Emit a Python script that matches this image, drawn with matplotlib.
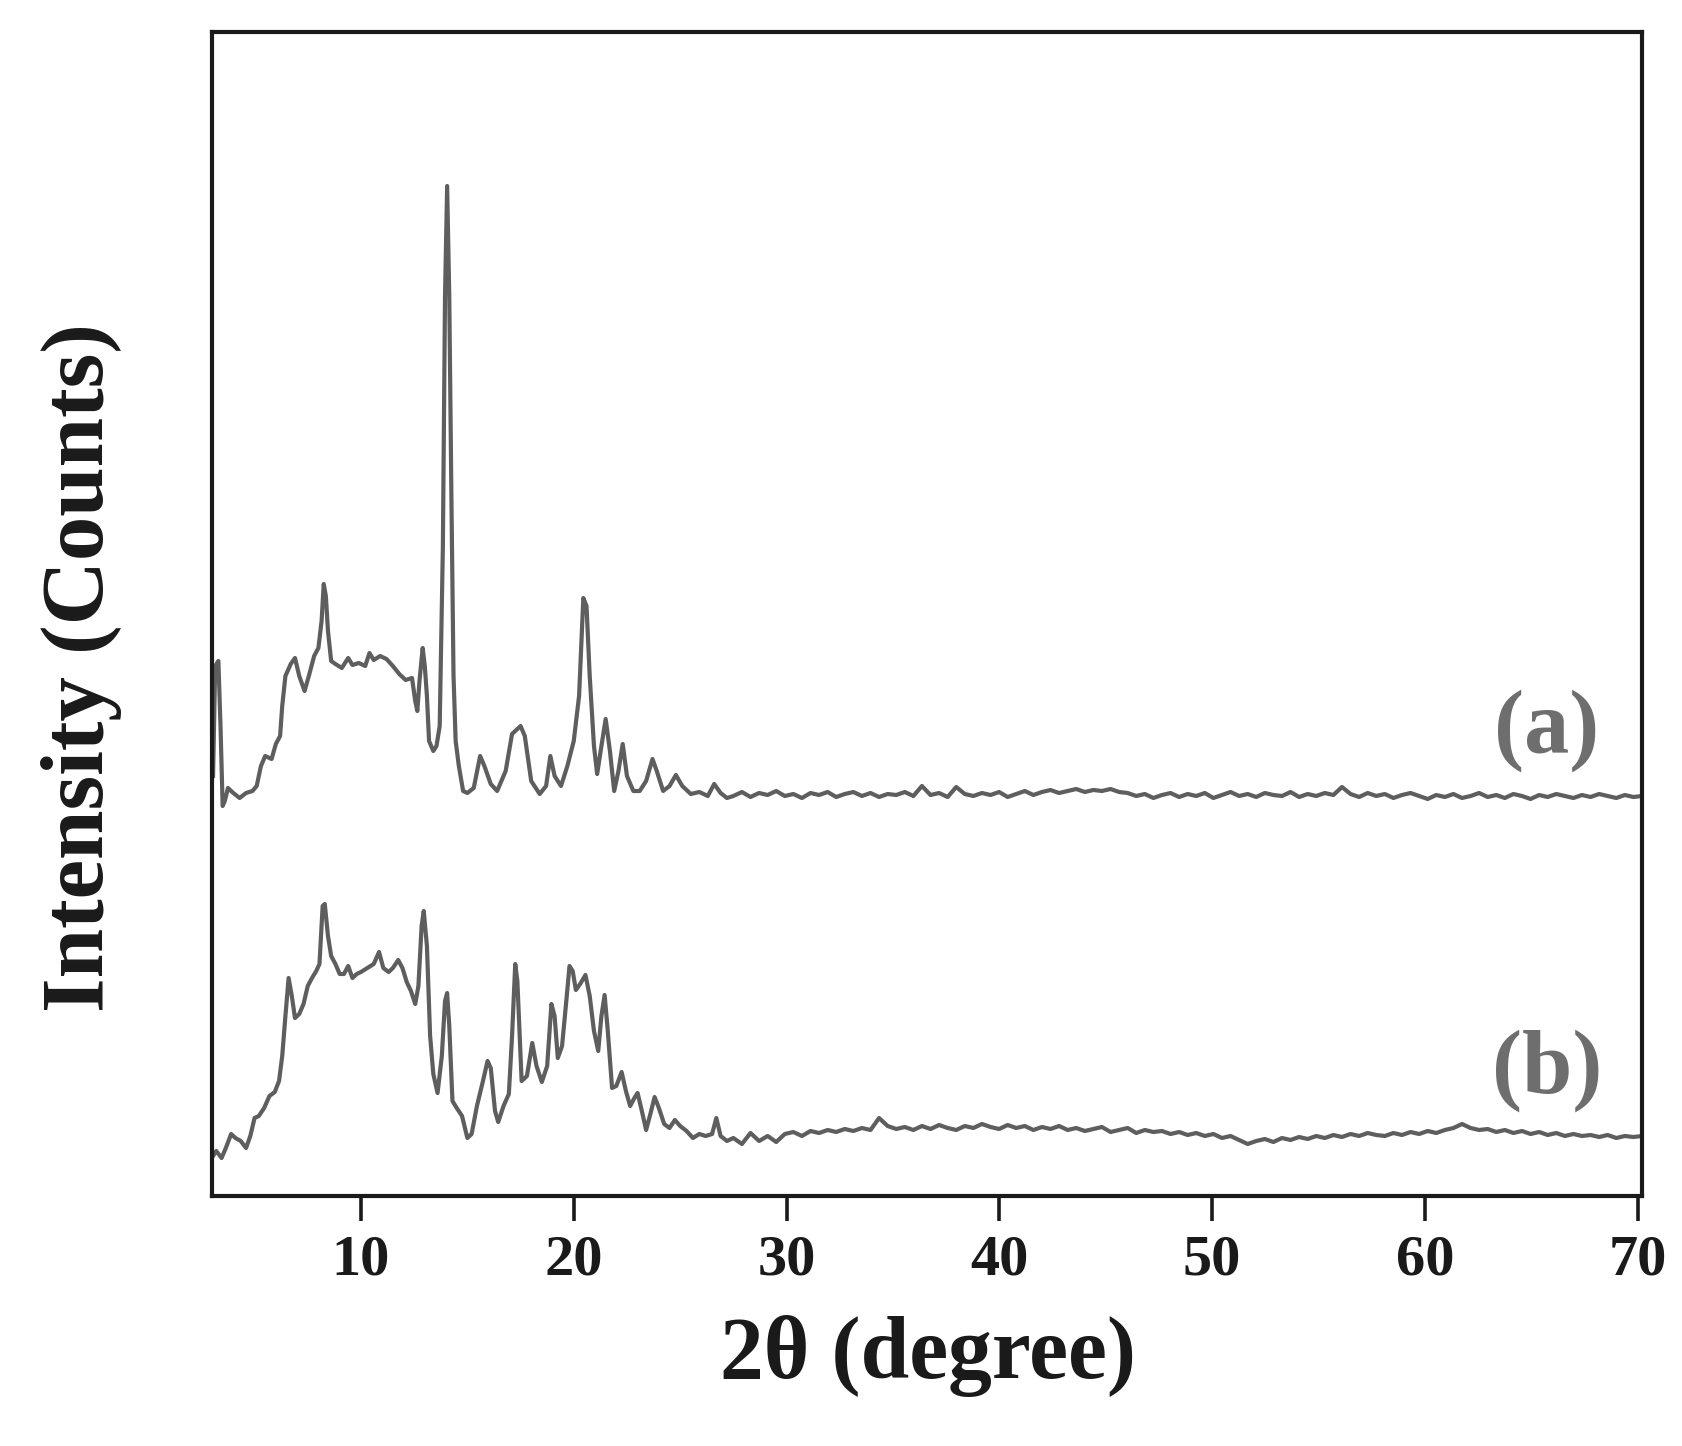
import numpy as np
import matplotlib
matplotlib.use("Agg")
import matplotlib.pyplot as plt

# ---------------- data ----------------
# curve (a): peak region, 2-theta (deg) and intensity (arbitrary, offset trace)
a_x = [3.05, 3.15, 3.3, 3.4, 3.5, 3.6, 3.75, 4.0, 4.3, 4.6, 4.9, 5.1, 5.3, 5.5, 5.8,
       6.0, 6.2, 6.3, 6.45, 6.7, 6.9, 7.1, 7.35, 7.55, 7.8, 8.0, 8.15, 8.25, 8.35,
       8.45, 8.6, 8.8, 9.1, 9.4, 9.6, 9.9, 10.2, 10.4, 10.6, 10.9, 11.2, 11.5, 11.8,
       12.1, 12.4, 12.55, 12.65, 12.75, 12.9, 13.0, 13.1, 13.2, 13.4, 13.55, 13.7,
       13.85, 13.95, 14.05, 14.15, 14.25, 14.35, 14.45, 14.6, 14.8, 15.0, 15.3, 15.6,
       15.8, 16.1, 16.4, 16.8, 17.1, 17.5, 17.7, 18.0, 18.4, 18.7, 18.9, 19.1, 19.4,
       19.7, 20.0, 20.25, 20.45, 20.6, 20.75, 20.95, 21.1, 21.3, 21.5, 21.7, 21.9,
       22.1, 22.3, 22.5, 22.8, 23.1, 23.4, 23.7, 23.9, 24.2, 24.5, 24.8, 25.1, 25.5,
       25.9, 26.3, 26.6, 26.9, 27.2]
a_y = [420, 530, 535, 470, 390, 395, 408, 403, 398, 403, 405, 410, 430, 440, 437,
       452, 460, 490, 520, 532, 538, 520, 505, 520, 540, 548, 575, 612, 600,
       565, 535, 532, 528, 538, 531, 533, 530, 543, 536, 540, 537, 530, 522,
       516, 518, 495, 485, 515, 548, 530, 500, 455, 445, 450, 470,
       650, 900, 1010, 900, 700, 520, 455, 430, 405, 403, 408, 440,
       430, 412, 405, 425, 462, 470, 460, 415, 402, 410, 440, 420, 410,
       430, 455, 500, 598, 590, 520, 450, 422, 450, 477, 445, 405,
       425, 452, 420, 405, 405, 415, 437, 425, 405, 410, 421, 410, 402,
       404, 400, 412, 403, 398]
# curve (a): flat tail from 27.5 to 70.2 deg (evenly spaced readings)
a_tail_y = [400, 404, 399, 403, 401, 405, 400, 402, 398, 403,
            401, 404, 399, 402, 404, 400, 403, 399, 402, 401,
            404, 400, 410, 401, 403, 399, 409, 402, 400, 403,
            401, 404, 399, 402, 405, 401, 404, 406, 403, 405,
            407, 404, 406, 405, 407, 404, 403, 400, 402, 398,
            401, 403, 399, 402, 400, 403, 398, 401, 404, 400,
            402, 399, 403, 401, 400, 404, 399, 402, 400, 403,
            401, 409, 402, 399, 403, 400, 402, 398, 401, 403,
            400, 397, 401, 399, 402, 398, 400, 403, 399, 401,
            398, 402, 400, 397, 401, 399, 402, 400, 398, 401,
            399, 402, 400, 398, 401, 399, 400]

# curve (b): peak region
b_x = [3.05, 3.2, 3.45, 3.65, 3.9, 4.1, 4.35, 4.6, 4.8, 5.0, 5.2, 5.45, 5.7, 5.95,
       6.15, 6.3, 6.45, 6.6, 6.75, 6.9, 7.1, 7.3, 7.5, 7.7, 7.9, 8.05, 8.2, 8.3,
       8.45, 8.6, 8.8, 9.0, 9.2, 9.4, 9.6, 9.8, 10.0, 10.3, 10.6, 10.85, 11.05,
       11.3, 11.5, 11.75, 11.95, 12.15, 12.35, 12.55, 12.7, 12.85, 12.95, 13.1,
       13.25, 13.4, 13.6, 13.8, 13.95, 14.05, 14.15, 14.3, 14.5, 14.75, 15.0, 15.2,
       15.45, 15.7, 15.95, 16.1, 16.3, 16.45, 16.7, 16.95, 17.1, 17.25, 17.35,
       17.55, 17.8, 18.05, 18.25, 18.5, 18.75, 18.95, 19.1, 19.25, 19.45, 19.65,
       19.8, 19.95, 20.1, 20.3, 20.55, 20.75, 20.95, 21.15, 21.3, 21.45, 21.6,
       21.8, 22.0, 22.25, 22.45, 22.65, 22.85, 23.0, 23.2, 23.4, 23.6, 23.8, 24.0,
       24.25, 24.5, 24.75, 25.0, 25.3, 25.6, 25.9, 26.2, 26.5, 26.7, 26.9, 27.2]
b_y = [40, 45, 38, 48, 62, 58, 55, 48, 60, 78, 80, 88, 100, 104,
       115, 140, 180, 218, 200, 178, 182, 192, 210, 218, 225, 232, 290, 292,
       260, 240, 232, 222, 222, 230, 218, 222, 224, 228, 232, 244, 228,
       224, 228, 236, 228, 214, 205, 192, 210, 270, 285, 250,
       160, 122, 103, 140, 195, 203, 170, 95, 88, 80, 58, 62,
       90, 112, 135, 128, 85, 74, 90, 102, 160, 232, 215,
       115, 120, 153, 130, 114, 130, 192, 180, 138, 150, 195,
       230, 225, 206, 212, 221, 200, 165, 145, 180, 201, 165,
       108, 110, 124, 105, 90, 98, 103, 85, 66, 82, 99, 88,
       72, 68, 76, 70, 65, 58, 62, 60, 62, 78, 60, 55]
b_tail_y = [58, 52, 63, 55, 60, 54, 62, 64, 60, 65,
            63, 66, 64, 67, 65, 68, 66, 78, 70, 67,
            69, 66, 70, 67, 71, 68, 66, 70, 68, 72,
            69, 67, 71, 68, 70, 66, 69, 67, 70, 66,
            68, 65, 67, 69, 64, 66, 68, 63, 66, 64,
            65, 62, 64, 61, 63, 60, 62, 58, 60, 56,
            52, 55, 57, 54, 58, 56, 59, 57, 60, 58,
            61, 59, 62, 60, 63, 61, 60, 63, 61, 64,
            62, 65, 63, 66, 68, 72, 68, 66, 67, 64,
            66, 63, 65, 62, 64, 61, 63, 60, 62, 60,
            61, 59, 61, 58, 60, 59, 60]

tail_start, tail_end = 27.5, 70.2
xticks = [10, 20, 30, 40, 50, 60, 70]
labels = ["(a)", "(b)"]
xlabel_text = "2θ (degree)"
ylabel_text = "Intensity (Counts)"

# ---------------- figure ----------------
plt.rcParams['font.family'] = ['Liberation Serif', 'DejaVu Serif']
plt.rcParams['font.weight'] = 'bold'

W, H, DPI = 1682, 1446, 100
fig = plt.figure(figsize=(W / DPI, H / DPI), dpi=DPI)
L, R, T, B = 212, 1642, 32, 1196
ax = fig.add_axes([L / W, 1 - B / H, (R - L) / W, (B - T) / H])

line_color = "#5e5e5e"
ax_tail_a = np.linspace(tail_start, tail_end, len(a_tail_y))
ax_tail_b = np.linspace(tail_start, tail_end, len(b_tail_y))
xa = np.concatenate([a_x, ax_tail_a])
ya = np.concatenate([a_y, a_tail_y])
xb = np.concatenate([b_x, ax_tail_b])
yb = np.concatenate([b_y, b_tail_y])

ax.plot(xa, ya, color=line_color, lw=3.0, solid_joinstyle='round')
ax.plot(xb, yb, color=line_color, lw=3.0, solid_joinstyle='round')

ax.set_xlim(3.0, 70.2)
ax.set_ylim(0, B - T)
ax.set_xticks(xticks)
ax.set_yticks([])
ax.tick_params(axis='x', direction='out', length=18, width=2.6, pad=10,
               labelsize=42, colors='#1a1a1a')
for lab in ax.get_xticklabels():
    lab.set_fontweight('bold')
for s in ax.spines.values():
    s.set_linewidth(3.0)
    s.set_color('#1a1a1a')

fig.text(928 / W, 1 - 1378 / H, xlabel_text, fontsize=63, fontweight='bold',
         color='#1a1a1a', ha='center', va='baseline')
fig.text(82 / W, 1 - 668 / H, ylabel_text, fontsize=64, fontweight='bold',
         color='#1a1a1a', ha='center', va='center', rotation=90)

ax.text(0.9335, 0.40, labels[0], transform=ax.transAxes, fontsize=65,
        fontweight='bold', color='#6e6e6e', ha='center', va='center')
ax.text(0.9335, 0.108, labels[1], transform=ax.transAxes, fontsize=65,
        fontweight='bold', color='#6e6e6e', ha='center', va='center')

fig.savefig("out.png", dpi=DPI, facecolor='white')
